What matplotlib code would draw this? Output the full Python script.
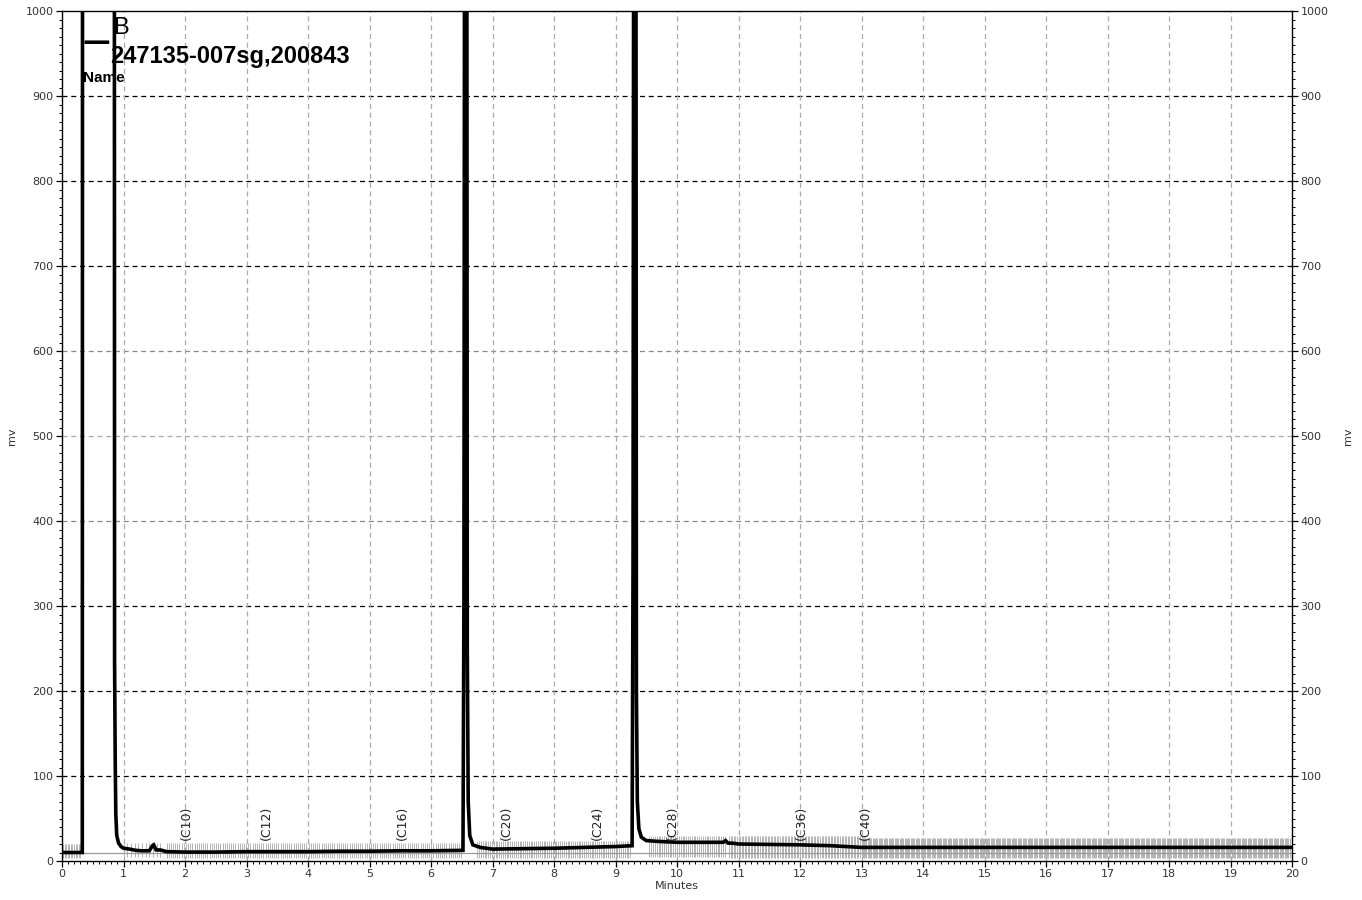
import numpy as np
import matplotlib.pyplot as plt
from matplotlib.ticker import MultipleLocator

# chromatogram trace (minutes, mV); peaks run off the top of the chart
trace_t = [0.0, 0.33, 0.335, 0.85, 0.855, 0.865, 0.875, 0.89, 0.92, 0.96, 1.0, 1.1, 1.2,
           1.3, 1.42, 1.47, 1.49, 1.53, 1.6, 1.7, 2.0, 2.5, 3.0, 3.5, 4.0, 4.5, 5.0, 5.5,
           6.0, 6.52, 6.535, 6.55, 6.58, 6.59, 6.605, 6.63, 6.68, 6.8, 7.0, 7.5, 8.0, 8.5,
           9.0, 9.27, 9.285, 9.3, 9.33, 9.34, 9.355, 9.38, 9.42, 9.5, 9.7, 10.0, 10.3,
           10.75, 10.79, 10.83, 10.9, 11.0, 11.5, 12.0, 12.5, 13.0, 14.0, 16.0, 18.0, 20.0]
trace_mv = [10, 10, 1500, 1500, 235, 120, 55, 30, 21, 17, 15, 14, 12.5,
            12, 12, 18, 19, 13, 13, 11, 10.5, 10.5, 11, 11, 11, 11.5, 11.5, 12,
            12, 12.5, 300, 1500, 1500, 250, 70, 30, 19, 16, 14, 14.5, 15, 16,
            17, 18, 350, 1500, 1500, 200, 70, 38, 28, 24, 23, 22, 22,
            22, 24, 21, 21, 20, 19.5, 19, 18, 16, 16, 16, 16, 16]

# peak labels
label_text = ["(C10)", "(C12)", "(C16)", "(C20)", "(C24)", "(C28)", "(C36)", "(C40)"]
label_t = [2.02, 3.33, 5.53, 7.22, 8.70, 9.93, 12.02, 13.07]

# integration tick-mark bands: start, end, low mV, high mV, spacing (min)
band_start = [0.02, 1.0, 1.7, 6.75, 9.55, 10.85, 13.0]
band_end = [0.32, 1.6, 6.5, 9.25, 10.8, 13.0, 19.98]
band_lo = [3, 5, 3, 3, 5, 4, 3]
band_hi = [20, 21, 21, 24, 30, 29, 27]
band_step = [0.025, 0.06, 0.035, 0.03, 0.03, 0.025, 0.02]

fig = plt.figure(figsize=(13.62, 9), dpi=100)
ax = fig.add_axes([62 / 1362, 1 - 861 / 900, 1230 / 1362, 850 / 900])

# grid
for v in range(100, 1000, 100):
    col = '#888888' if v in (400, 600) else 'black'
    if v == 500:
        col = '#aaaaaa'
    ax.axhline(v, color=col, lw=0.9, ls=(0, (4, 3)), zorder=1)
for t in range(1, 20):
    ax.axvline(t, color='#aaaaaa', lw=0.9, ls=(0, (4, 3)), zorder=1)

# tick-mark bands
for s, e, lo, hi, st in zip(band_start, band_end, band_lo, band_hi, band_step):
    xs = np.arange(s, e, st)
    ax.vlines(xs, lo, hi, color='#b4b4b4', lw=0.7, zorder=2)

ax.axhline(10, color='#999999', lw=0.9, zorder=2)
ax.plot(trace_t, trace_mv, color='black', lw=2.6, zorder=3, solid_joinstyle='miter')

for txt, t in zip(label_text, label_t):
    ax.text(t, 25, txt, rotation=90, ha='center', va='bottom', fontsize=9, color='#222222', zorder=4)

ax.set_xlim(0, 20)
ax.set_ylim(0, 1000)
ax.xaxis.set_major_locator(MultipleLocator(1))
ax.xaxis.set_minor_locator(MultipleLocator(0.1))
ax.yaxis.set_major_locator(MultipleLocator(100))
ax.yaxis.set_minor_locator(MultipleLocator(10))
ax.tick_params(which='major', length=4, width=0.9, labelsize=8, labelcolor='#333333', pad=2)
ax.tick_params(which='minor', length=2, width=0.7)
ax.tick_params(axis='y', which='both', left=True, right=True, labelleft=True, labelright=True)
ax.set_xlabel("Minutes", fontsize=8, color='#333333', labelpad=1)
fig.text(12 / 1362, 1 - 436 / 900, "mv", rotation=90, fontsize=8, color='#333333',
         ha='center', va='center')
fig.text(1348 / 1362, 1 - 436 / 900, "mv", rotation=90, fontsize=8, color='#333333',
         ha='center', va='center')
for sp in ax.spines.values():
    sp.set_linewidth(1.0)

# header
fig.text(83 / 1362, 1 - 42 / 900, "\u2014", fontsize=20, fontweight='bold', va='center')
fig.text(113 / 1362, 1 - 28 / 900, "B", family='Liberation Sans', fontsize=17, va='center')
fig.text(110 / 1362, 1 - 56 / 900, "247135-007sg,200843", family='Liberation Sans',
         fontsize=17, fontweight='bold', va='center')
fig.text(83 / 1362, 1 - 78 / 900, "Name", family='Liberation Sans', fontsize=11,
         fontweight='bold', va='center')

fig.savefig("out.png", dpi=100)
